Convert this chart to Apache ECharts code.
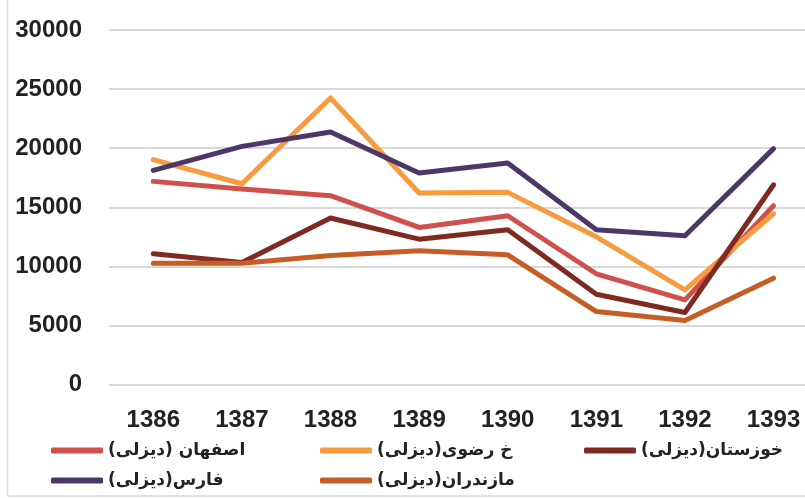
<!DOCTYPE html>
<html>
<head>
<meta charset="utf-8">
<script src="https://cdn.jsdelivr.net/npm/echarts@6/dist/echarts.min.js"></script>
<style>
  html, body { margin: 0; padding: 0; background: #fff; }
  #chart { width: 805px; height: 498px; }
</style>
</head>
<body>
<div id="chart"></div>
<script>
// years on the x axis
const years = ['1386', '1387', '1388', '1389', '1390', '1391', '1392', '1393']
// series values
const isfahan = [17190, 16540, 15980, 13290, 14280, 9370, 7160, 15130]
const khorasan = [19030, 16990, 24250, 16200, 16260, 12500, 8010, 14450]
const khuzestan = [11060, 10320, 14090, 12300, 13090, 7640, 6090, 16900]
const fars = [18120, 20150, 21370, 17900, 18750, 13090, 12590, 19960]
const mazandaran = [10270, 10270, 10920, 11310, 10970, 6170, 5410, 9000]
const names = ['اصفهان (دیزلی)', 'خ رضوی(دیزلی)', 'خوزستان(دیزلی)', 'فارس(دیزلی)', 'مازندران(دیزلی)']
const colors = ['#D0504B', '#F79B3F', '#7F2A20', '#4C3867', '#C55D27']
const values = [isfahan, khorasan, khuzestan, fars, mazandaran]

const chart = echarts.init(document.getElementById('chart'))

// legend placed as 3 columns x 2 rows
const legendPos = [[46, 437], [315, 437], [579, 437], [46, 467], [315, 467]]
const legends = names.map((n, i) => ({
  data: [n],
  left: legendPos[i][0],
  top: legendPos[i][1],
  icon: 'roundRect',
  itemWidth: 52,
  itemHeight: 6,
  itemGap: 6,
  textStyle: { fontFamily: 'DejaVu Sans', fontSize: 17, fontWeight: 'bold', color: '#222' }
}))

// the plot area is cut off on the right, so the x axis is a value axis
// running from half a step before the first year to the picture's edge
const xIdx = years.map((y, i) => i)

chart.setOption({
  animation: false,
  legend: legends,
  // thin frame on the left and bottom edge
  graphic: [
    { type: 'line', shape: { x1: 7.5, y1: 0, x2: 7.5, y2: 496 }, style: { stroke: '#D9D9D9', lineWidth: 1.5 } },
    { type: 'line', shape: { x1: 7.5, y1: 496, x2: 805, y2: 496 }, style: { stroke: '#D9D9D9', lineWidth: 1.5 } }
  ],
  grid: { left: 109, top: 30, right: 0, height: 354.5, containLabel: false },
  xAxis: {
    type: 'value',
    min: -0.5,
    max: 7.355,
    splitLine: { show: false },
    axisLine: { show: false },
    axisTick: { show: false },
    axisLabel: {
      customValues: xIdx,
      formatter: v => years[Math.round(v)],
      margin: 24, fontSize: 24, fontWeight: 'bold', color: '#222', fontFamily: 'Liberation Sans'
    }
  },
  yAxis: {
    type: 'value',
    min: 0,
    max: 30000,
    interval: 5000,
    axisLine: { show: false },
    axisTick: { show: false },
    axisLabel: { margin: 27, fontSize: 24, fontWeight: 'bold', color: '#222', fontFamily: 'Liberation Sans', formatter: v => String(v) },
    splitLine: { lineStyle: { color: '#D9D9D9', width: 2 } }
  },
  series: names.map((n, i) => ({
    name: n,
    type: 'line',
    data: values[i].map((v, j) => [xIdx[j], v]),
    showSymbol: false,
    color: colors[i],
    lineStyle: { width: 5, cap: 'round', join: 'round' }
  }))
})
</script>
</body>
</html>
